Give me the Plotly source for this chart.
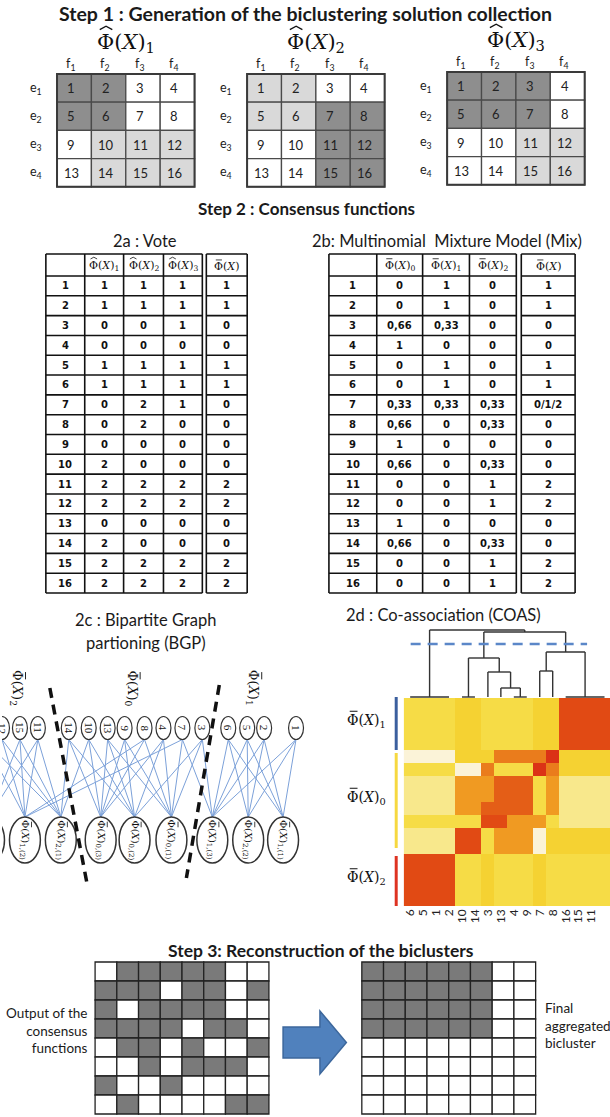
import plotly.graph_objects as go

W, H = 610, 1117

# ======================= DATA =======================
step1_subs = ["1", "2", "3"]
cell_ids = list(range(1, 17))
# 0 = white, 1 = dark grey, 2 = light grey
step1_shade_1 = [1, 1, 0, 0, 1, 1, 0, 0, 0, 2, 2, 2, 0, 2, 2, 2]
step1_shade_2 = [2, 2, 0, 0, 2, 2, 1, 1, 0, 0, 1, 1, 0, 0, 1, 1]
step1_shade_3 = [1, 1, 1, 0, 1, 1, 1, 0, 0, 0, 2, 2, 0, 0, 2, 2]
object_labels = ["e<sub>1</sub>", "e<sub>2</sub>", "e<sub>3</sub>", "e<sub>4</sub>"]
feature_labels = ["f<sub>1</sub>", "f<sub>2</sub>", "f<sub>3</sub>", "f<sub>4</sub>"]

elements = [str(i) for i in range(1, 17)]
vote_header_subs = ["1", "2", "3"]          # hat-Phi(X)_k
vote_sol1 = [1, 1, 0, 0, 1, 1, 0, 0, 0, 2, 2, 2, 0, 2, 2, 2]
vote_sol2 = [1, 1, 0, 0, 1, 1, 2, 2, 0, 0, 2, 2, 0, 0, 2, 2]
vote_sol3 = [1, 1, 1, 0, 1, 1, 1, 0, 0, 0, 2, 2, 0, 0, 2, 2]
vote_result = [1, 1, 0, 0, 1, 1, 0, 0, 0, 0, 2, 2, 0, 0, 2, 2]

mix_header_subs = ["0", "1", "2"]           # bar-Phi(X)_k
mix_p0 = ["0", "0", "0,66", "1", "0", "0", "0,33", "0,66", "1", "0,66", "0", "0", "1", "0,66", "0", "0"]
mix_p1 = ["1", "1", "0,33", "0", "1", "1", "0,33", "0", "0", "0", "0", "0", "0", "0", "0", "0"]
mix_p2 = ["0", "0", "0", "0", "0", "0", "0,33", "0,33", "0", "0,33", "1", "1", "0", "0,33", "1", "1"]
mix_result = ["1", "1", "0", "0", "1", "1", "0/1/2", "0", "0", "0", "2", "2", "0", "0", "2", "2"]

# bipartite graph: element nodes (left->right) and (solution, cluster) nodes
bgp_top_order = [16, 12, 15, 11, 14, 10, 13, 9, 8, 4, 7, 3, 6, 5, 2, 1]
bgp_bottom_nodes = [(3, 2), (2, 2), (1, 2), (3, 0), (2, 0), (1, 0), (3, 1), (2, 1), (1, 1)]
bgp_bottom_labels = ["2,(3)", "1,(2)", "2,(1)", "0,(3)", "0,(2)", "0,(1)", "1,(3)", "2,(2)", "1,(1)"]
bgp_group_subs = ["2", "0", "1"]

# co-association heatmap (colour levels)
hm_order = ["6", "5", "1", "2", "10", "14", "3", "13", "4", "9", "7", "8", "16", "15", "11", "12"]
hm_levels = [
    [2, 2, 2, 2, 3, 3, 2, 2, 2, 2, 3, 3, 7, 7, 7, 7],
    [2, 2, 2, 2, 3, 3, 2, 2, 2, 2, 3, 3, 7, 7, 7, 7],
    [2, 2, 2, 2, 3, 3, 2, 2, 2, 2, 3, 3, 7, 7, 7, 7],
    [2, 2, 2, 2, 3, 3, 2, 2, 2, 2, 3, 3, 7, 7, 7, 7],
    [0, 0, 0, 0, 3, 3, 3, 5, 5, 5, 5, 8, 3, 3, 3, 3],
    [2, 2, 2, 2, 0, 0, 5, 2, 2, 2, 8, 5, 3, 3, 3, 3],
    [1, 1, 1, 1, 4, 4, 4, 6, 6, 6, 2, 4, 1, 1, 1, 1],
    [1, 1, 1, 1, 4, 4, 4, 6, 6, 6, 2, 4, 1, 1, 1, 1],
    [1, 1, 1, 1, 4, 4, 6, 6, 6, 6, 2, 4, 1, 1, 1, 1],
    [2, 2, 2, 2, 2, 2, 7, 7, 4, 4, 4, 2, 1, 1, 1, 1],
    [1, 1, 1, 1, 7, 7, 2, 4, 4, 4, 0, 3, 3, 3, 3, 3],
    [1, 1, 1, 1, 7, 7, 2, 4, 4, 4, 0, 3, 3, 3, 3, 3],
    [7, 7, 7, 7, 2, 2, 3, 2, 2, 2, 3, 2, 2, 2, 2, 2],
    [7, 7, 7, 7, 2, 2, 3, 2, 2, 2, 3, 2, 2, 2, 2, 2],
    [7, 7, 7, 7, 2, 2, 3, 2, 2, 2, 3, 2, 2, 2, 2, 2],
    [7, 7, 7, 7, 2, 2, 3, 2, 2, 2, 3, 2, 2, 2, 2, 2],
]
hm_colors = ["#fbf3d8", "#f8e88c", "#f6dc46", "#f5d232", "#f09a22", "#ea7c1c", "#e45e17", "#e14a14", "#db3216"]
hm_row_subs = ["1", "0", "2"]

dendro_leaf_groups = [[0, 1, 2, 3], [4, 5], [6], [7], [8, 9], [10], [11], [12, 13, 14, 15]]
dendro_merges = [(3, 4, 9), (2, 8, 25), (1, 9, 39), (5, 6, 26), (11, 7, 45), (10, 12, 65), (0, 13, 67)]
dendro_cut = 53

step3_input = [
    [0, 1, 1, 1, 1, 1, 0, 0],
    [1, 1, 1, 0, 1, 1, 0, 1],
    [1, 0, 1, 1, 1, 1, 0, 0],
    [1, 1, 1, 1, 0, 1, 1, 0],
    [0, 1, 1, 0, 1, 0, 0, 1],
    [0, 0, 1, 0, 1, 1, 1, 0],
    [1, 0, 0, 1, 0, 0, 0, 0],
    [0, 1, 0, 0, 0, 0, 1, 1],
]
step3_output = [
    [1, 1, 1, 1, 1, 1, 0, 0],
    [1, 1, 1, 1, 1, 1, 0, 0],
    [1, 1, 1, 1, 1, 1, 0, 0],
    [1, 1, 1, 1, 1, 1, 0, 0],
    [0, 0, 0, 0, 0, 0, 0, 0],
    [0, 0, 0, 0, 0, 0, 0, 0],
    [0, 0, 0, 0, 0, 0, 0, 0],
    [0, 0, 0, 0, 0, 0, 0, 0],
]

# ======================= HELPERS =======================
shapes, annots = [], []
SANS = "Lato"
SERIF = "DejaVu Serif"
TAB = "DejaVu Sans"


def L(x0, y0, x1, y1, color="#1a1a1a", w=1.5, dash=None):
    line = dict(color=color, width=w)
    if dash:
        line["dash"] = dash
    shapes.append(dict(type="line", xref="x", yref="y", x0=x0, y0=y0, x1=x1, y1=y1, line=line))


def R(x0, y0, x1, y1, fill, color="#333", w=1.0):
    shapes.append(dict(type="rect", xref="x", yref="y", x0=x0, y0=y0, x1=x1, y1=y1,
                       fillcolor=fill, line=dict(color=color, width=w)))


def E(cx, cy, w, h, color="#333", lw=1.2):
    shapes.append(dict(type="circle", xref="x", yref="y", x0=cx - w / 2, x1=cx + w / 2,
                       y0=cy - h / 2, y1=cy + h / 2, fillcolor="white", line=dict(color=color, width=lw)))


def T(x, y, s, size=12, family=SANS, color="#1a1a1a", xa="center", ya="middle", angle=0, align="center"):
    annots.append(dict(x=x, y=y, xref="x", yref="y", text=s, showarrow=False,
                       font=dict(size=size, family=family, color=color),
                       xanchor=xa, yanchor=ya, textangle=angle, align=align))


CW = {"Φ": 0.80, "(": 0.39, ")": 0.39, "X": 0.70, ",": 0.32}


def text_w(s, size):
    return sum(CW.get(ch, 0.64) for ch in s) * size


def phi(cx, cy, sub, size, accent, angle=0, color="#111"):
    """Phi(X)_sub with a hat or bar accent drawn above the Phi glyph."""
    text = "Φ(<i>X</i>)" + (f"<sub>{sub}</sub>" if sub else "")
    T(cx, cy, text, size, SERIF, color, angle=angle)
    w = text_w("Φ(X)", size) + text_w(sub, size * 0.7)
    along = -w / 2 + 0.42 * size
    up = size * (0.66 if sub else 0.55)

    def P(u, v):
        if angle == 0:
            return cx + along + u, cy - up - v
        return cx + up + v, cy + along + u

    if accent == "bar":
        x0, y0 = P(-0.28 * size, 0)
        x1, y1 = P(0.28 * size, 0)
        L(x0, y0, x1, y1, color, max(0.8, size / 14))
    else:
        a = P(-0.3 * size, -0.02 * size)
        b = P(0, 0.14 * size)
        c = P(0.3 * size, -0.02 * size)
        shapes.append(dict(type="path", xref="x", yref="y",
                           path=f"M {a[0]},{a[1]} L {b[0]},{b[1]} L {c[0]},{c[1]}",
                           line=dict(color=color, width=max(0.8, size / 16))))


# ======================= STEP 1 =======================
T(304, 13, "<b>Step 1 : Generation of the biclustering solution collection</b>", 19.5)
shade_colors = ["#ffffff", "#8e8e8e", "#d9d9d9"]
grid_origins = [(55.2, 74), (245.9, 74), (446.6, 72)]
cw1, ch1 = 34.5, 28.2
for g, shade in enumerate([step1_shade_1, step1_shade_2, step1_shade_3]):
    gx, gy = grid_origins[g]
    for k in range(16):
        r, c = divmod(k, 4)
        R(gx + c * cw1, gy + r * ch1, gx + (c + 1) * cw1, gy + (r + 1) * ch1, shade_colors[shade[k]], "#4a4a4a", 1.3)
        T(gx + (c + 0.5) * cw1 - 3, gy + (r + 0.5) * ch1, str(cell_ids[k]), 13, SANS, "#222")
    R(gx, gy, gx + 4 * cw1, gy + 4 * ch1, "rgba(0,0,0,0)", "#3a3a3a", 2)
    for c in range(4):
        T(gx + (c + 0.5) * cw1 - 4, gy - 10, feature_labels[c], 12.5, SANS)
    for r in range(4):
        T(gx - 21, gy + (r + 0.5) * ch1, object_labels[r], 12.5, SANS)
    phi(gx + 2 * cw1, gy - 31, step1_subs[g], 21, "hat")

# ======================= STEP 2 =======================
T(W / 2, 208, "<b>Step 2 : Consensus functions</b>", 17)
T(143, 241, "2a : Vote", 16.5)
T(446, 241, "2b: Multinomial  Mixture Model (Mix)", 16.5)


def draw_table(cols, rcols, top, hb, bottom, header_subs, accent, data_cols, rdata):
    rh = (bottom - hb) / 16
    ys = [top, hb] + [hb + (i + 1) * rh for i in range(16)]
    for y in ys:
        L(cols[0], y, cols[-1], y, "#111", 1.6)
        L(rcols[0], y, rcols[1], y, "#111", 1.6)
    for x in cols + rcols:
        L(x, top, x, bottom, "#111", 1.6)
    for i, sub in enumerate(header_subs):
        phi((cols[i + 1] + cols[i + 2]) / 2, (top + hb) / 2 + 1, sub, 11, accent)
    phi((rcols[0] + rcols[1]) / 2, (top + hb) / 2 + 1, "", 11, "bar")
    for r in range(16):
        yc = hb + (r + 0.5) * rh
        T((cols[0] + cols[1]) / 2, yc, "<b>" + elements[r] + "</b>", 10, TAB, "#111")
        for j, col in enumerate(data_cols):
            T((cols[j + 1] + cols[j + 2]) / 2, yc, "<b>" + str(col[r]) + "</b>", 10, TAB, "#111")
        T((rcols[0] + rcols[1]) / 2, yc, "<b>" + str(rdata[r]) + "</b>", 10, TAB, "#111")


draw_table([44, 83, 122, 162, 201], [205, 246], 254, 276, 593,
           vote_header_subs, "hat", [vote_sol1, vote_sol2, vote_sol3], vote_result)
draw_table([328, 376, 422, 469, 516], [521, 575], 254, 276, 593,
           mix_header_subs, "bar", [mix_p0, mix_p1, mix_p2], mix_result)

# ---------------- 2c : bipartite graph ----------------
T(144, 620, "2c : Bipartite Graph", 16.5)
T(144, 643, "partioning (BGP)", 16.5)
top_x = [-18, 0, 18, 36, 67, 87, 106, 123, 143, 162, 181, 201, 227, 246, 263, 295]
bottom_x = [-13, 23, 59, 99, 133, 170, 211, 247, 282]
top_cy, top_w, top_h = 728, 15, 23
bot_cy, bot_w, bot_h = 840, 31, 46
votes = [vote_sol1, vote_sol2, vote_sol3]
for i, e in enumerate(bgp_top_order):
    for m in range(3):
        node = bgp_bottom_nodes.index((m + 1, votes[m][e - 1]))
        L(top_x[i], top_cy + top_h / 2, bottom_x[node], bot_cy - bot_h / 2, "#7ca1d9", 1.0)
for i, e in enumerate(bgp_top_order):
    E(top_x[i], top_cy, top_w, top_h, "#333", 1.2)
    T(top_x[i], top_cy, str(e), 11, "Liberation Serif", "#111", angle=90)
for j, lab in enumerate(bgp_bottom_labels):
    E(bottom_x[j], bot_cy, bot_w, bot_h, "#333", 1.5)
    phi(bottom_x[j], bot_cy, lab, 10, "bar", angle=90)
for x, sub in zip([15, 130, 252], bgp_group_subs):
    phi(x, 688, sub, 13, "bar", angle=90)
L(48, 688, 85, 882, "#111", 3.5, "10px,7px")
L(218, 685, 185, 878, "#111", 3.5, "10px,7px")

# ---------------- 2d : co-association ----------------
T(443, 615, "2d : Co-association (COAS)", 16.5)
hx0, hy0, hc = 403, 698, 13
n = len(hm_order)
nl = len(hm_colors)
cscale = []
for i, c in enumerate(hm_colors):
    cscale.append([i / nl, c])
    cscale.append([(i + 1) / nl, c])

# dendrogram
ybase = hy0 - 1
pos = {}
for gi, grp in enumerate(dendro_leaf_groups):
    xs = [hx0 + (c + 0.5) * hc for c in grp]
    pos[gi] = (sum(xs) / len(xs), 0)
    if len(grp) > 1:
        L(min(xs), ybase, max(xs), ybase, "#333", 1.4)
nid = len(dendro_leaf_groups)
for a, b, hgt in dendro_merges:
    xa, ha = pos[a]
    xb, hb_ = pos[b]
    L(xa, ybase - ha, xa, ybase - hgt, "#333", 1.4)
    L(xb, ybase - hb_, xb, ybase - hgt, "#333", 1.4)
    L(xa, ybase - hgt, xb, ybase - hgt, "#333", 1.4)
    pos[nid] = ((xa + xb) / 2, hgt)
    nid += 1
L(410, ybase - dendro_cut, 587, ybase - dendro_cut, "#5b87c8", 2.5, "10px,7px")

# side colour bars + labels
side_bars = [(697, 750, "#3b5f9e"), (753, 848, "#f6d840"), (856, 906, "#de3322")]
for (ya, yb, col), sub in zip(side_bars, hm_row_subs):
    R(394, ya, 397, yb, col, col, 0)
    phi(366, (ya + yb) / 2 - 3, sub, 14, "bar")

# ======================= STEP 3 =======================
T(320, 950, "<b>Step 3: Reconstruction of the biclusters</b>", 17.5)
g3w, g3h = 21.8, 19.0
for gx, mat in [(93.4, step3_input), (361.0, step3_output)]:
    gy = 962
    for r in range(8):
        for c in range(8):
            R(gx + c * g3w, gy + r * g3h, gx + (c + 1) * g3w, gy + (r + 1) * g3h,
              "#7a7a7a" if mat[r][c] else "#ffffff", "#222", 1.3)
T(88, 1030, "Output of the<br>consensus<br>functions", 13.5, SANS, "#1a1a1a", xa="right", align="right")
T(543, 1025, "Final<br>aggregated<br>bicluster", 13.5, SANS, "#1a1a1a", xa="left", align="left")
ax0, ax1, ahx, ayc, shaft, head = 282, 345.5, 319, 1042.5, 15.5, 31.5
path = (f"M {ax0},{ayc - shaft} L {ahx},{ayc - shaft} L {ahx},{ayc - head} L {ax1},{ayc} "
        f"L {ahx},{ayc + head} L {ahx},{ayc + shaft} L {ax0},{ayc + shaft} Z")
shapes.append(dict(type="path", xref="x", yref="y", path=path, fillcolor="#5081bd",
                   line=dict(color="#3c679c", width=1.5)))

# ======================= FIGURE =======================
fig = go.Figure()
fig.add_trace(go.Scatter(x=[0], y=[0], mode="markers", marker=dict(opacity=0), hoverinfo="skip", showlegend=False))
fig.add_trace(go.Heatmap(z=hm_levels, x=list(range(n)), y=list(range(n)), colorscale=cscale,
                         zmin=-0.5, zmax=nl - 0.5, showscale=False, xaxis="x2", yaxis="y2", hoverinfo="skip"))

x2_right = min(1.0, (hx0 + n * hc) / W)
vis_cols = (W - hx0) / hc
fig.update_layout(
    width=W, height=H, margin=dict(l=0, r=0, t=0, b=0),
    paper_bgcolor="white", plot_bgcolor="rgba(0,0,0,0)", showlegend=False,
    xaxis=dict(range=[0, W], visible=False, domain=[0, 1], fixedrange=True),
    yaxis=dict(range=[H, 0], visible=False, domain=[0, 1], fixedrange=True),
    xaxis2=dict(domain=[hx0 / W, x2_right], anchor="y2", range=[-0.5, min(n, vis_cols) - 0.5],
                tickmode="array", tickvals=list(range(n)), ticktext=hm_order, tickangle=-90,
                showgrid=False, zeroline=False, ticks="", showline=False,
                tickfont=dict(family=SANS, size=12, color="#222")),
    yaxis2=dict(domain=[1 - (hy0 + n * hc) / H, 1 - hy0 / H], anchor="x2", range=[n - 0.5, -0.5],
                visible=False),
    shapes=shapes, annotations=annots,
)
fig.write_html("out.html", config={"displayModeBar": False},
               post_script="document.body.style.margin='0px';document.body.style.overflow='hidden';")
